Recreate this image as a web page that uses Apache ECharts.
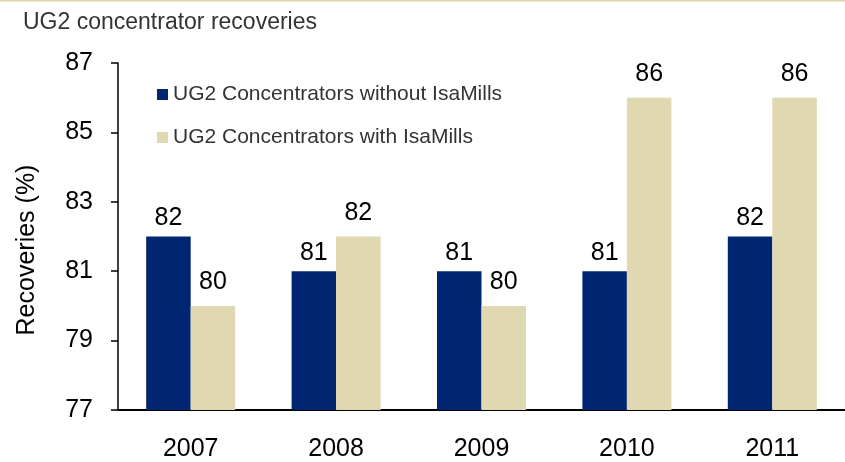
<!DOCTYPE html>
<html>
<head>
<meta charset="utf-8">
<script src="https://cdn.jsdelivr.net/npm/echarts@6/dist/echarts.min.js"></script>
<style>
  html, body { margin: 0; padding: 0; background: #ffffff; }
  #chart { width: 845px; height: 462px; }
</style>
</head>
<body>
<div id="chart"></div>
<script>
// Plant recovery data, 2007–2011
const years = ['2007', '2008', '2009', '2010', '2011'];
const withoutIsaMills = [82, 81, 81, 81, 82];
const withIsaMills = [80, 82, 80, 86, 86];
const seriesNames = ['UG2 Concentrators without IsaMills', 'UG2 Concentrators with IsaMills'];
const titleText = 'UG2 concentrator recoveries';
const yAxisTitle = 'Recoveries (%)';

const FONT = '"Liberation Sans", Arial, Helvetica, sans-serif';
const NAVY = '#002672';
const TAN = '#DFD8B0';

const chart = echarts.init(document.getElementById('chart'), null, { renderer: 'canvas' });

function valueLabel(distance) {
  return {
    show: true,
    position: 'top',
    distance: distance,
    color: '#000000',
    fontFamily: FONT,
    fontSize: 25
  };
}

chart.setOption({
  backgroundColor: '#ffffff',
  animation: false,
  title: {
    text: titleText,
    left: 18,
    top: 6,
    textStyle: { fontFamily: FONT, fontSize: 23, fontWeight: 'normal', color: '#333333' }
  },
  graphic: [{
    type: 'line',
    shape: { x1: 0, y1: 0.75, x2: 845, y2: 0.75 },
    style: { stroke: '#DCD4AC', lineWidth: 1.5 }
  }],
  legend: {
    orient: 'vertical',
    left: 152,
    top: 79,
    itemWidth: 11,
    itemHeight: 11,
    itemGap: 22,
    icon: 'rect',
    textStyle: { fontFamily: FONT, fontSize: 21, color: '#333333' },
    data: seriesNames
  },
  grid: { left: 118, top: 63, width: 730, height: 347, containLabel: false },
  xAxis: {
    type: 'category',
    data: years,
    axisLine: { show: true, lineStyle: { color: '#000000', width: 2 } },
    axisTick: { show: false },
    axisLabel: { color: '#000000', fontFamily: FONT, fontSize: 25, margin: 27 },
    splitLine: { show: false }
  },
  yAxis: {
    type: 'value',
    min: 77,
    max: 87,
    interval: 2,
    name: yAxisTitle,
    nameLocation: 'middle',
    nameRotate: 90,
    nameGap: 78,
    nameTextStyle: { fontFamily: FONT, fontSize: 25, color: '#000000', padding: [0, 27, 0, 0] },
    axisLine: { show: true, lineStyle: { color: '#000000', width: 1.5 } },
    axisTick: { show: true, inside: false, length: 7, lineStyle: { color: '#000000', width: 1.5 } },
    axisLabel: { color: '#000000', fontFamily: FONT, fontSize: 25, margin: 25 },
    splitLine: { show: false }
  },
  series: [
    {
      name: seriesNames[0],
      type: 'bar',
      data: withoutIsaMills,
      barWidth: 44.5,
      barGap: '0%',
      itemStyle: { color: NAVY },
      label: valueLabel(6)
    },
    {
      name: seriesNames[1],
      type: 'bar',
      data: withIsaMills,
      barWidth: 44.5,
      barGap: '0%',
      itemStyle: { color: TAN },
      label: valueLabel(11)
    }
  ]
});
</script>
</body>
</html>
